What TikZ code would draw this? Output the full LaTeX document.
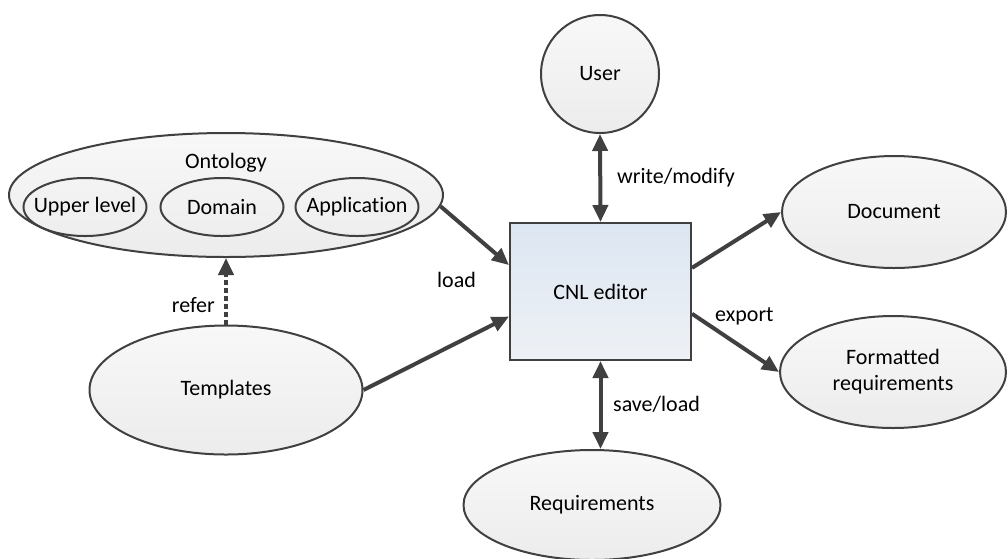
\documentclass[tikz,border=0pt]{standalone}
\usepackage{fontspec}
\setmainfont[Ligatures=NoCommon]{Carlito}
\usetikzlibrary{shapes.geometric,arrows.meta,calc}
\definecolor{ln}{HTML}{404040}
\definecolor{boxtop}{HTML}{DCE6F2}
\definecolor{boxbot}{HTML}{EEF1F5}
\definecolor{elltop}{HTML}{F8F8F8}
\definecolor{ellbot}{HTML}{ECECEC}
\begin{document}
\begin{tikzpicture}[x=1pt,y=-1pt,
  every node/.style={font=\fontsize{22}{26}\selectfont, text=black},
  ell/.style={ellipse, draw=ln, line width=2pt, top color=elltop, bottom color=ellbot, inner sep=0pt, align=center},
  sub/.style={ellipse, draw=ln, line width=2pt, inner sep=0pt, minimum width=123pt, minimum height=58pt},
  cnlbox/.style={rectangle, draw=ln, line width=2pt, top color=boxtop, bottom color=boxbot, minimum width=181pt, minimum height=137pt},
  tip/.tip={Triangle[length=17pt,width=15pt]},
  conn/.style={draw=ln, line width=4pt, -tip},
  dconn/.style={draw=ln, line width=4pt, tip-tip},
  lbl/.style={inner sep=0pt}
]
\useasboundingbox (0,0) rectangle (1008,558);

% nodes
\node[ell, minimum width=118pt, minimum height=118pt] (user) at (600,74) {User};
\node[cnlbox] (cnl) at (600.5,291.5) {CNL editor};
\node[ell, minimum width=434pt, minimum height=124pt] (ont) at (226,195) {};
\node[lbl] (ontl) at (226,163) {Ontology};
\node[sub, label={[lbl]center:Upper level}] (up) at (85,207) {};
\node[sub, label={[lbl]center:Domain}] (dom) at (222,207) {};
\node[sub, label={[lbl]center:Application}] (app) at (357,207) {};
\node[ell, minimum width=273pt, minimum height=129pt] (tmp) at (226,390) {Templates};
\node[ell, minimum width=224pt, minimum height=112pt] (doc) at (894,212) {Document};
\node[ell, minimum width=226pt, minimum height=112pt] (fr) at (893,372) {Formatted\\requirements};
\node[ell, minimum width=257pt, minimum height=110pt] (req) at (592,505) {Requirements};

% connectors
\draw[dconn] (user.south) -- (cnl.north);
\draw[dconn] (cnl.south) -- (cnl.south |- req.north);
\draw[conn] (ont.-3) -- ($(cnl.north west)!0.31!(cnl.south west)$);
\draw[conn] (tmp.east) -- ($(cnl.north west)!0.68!(cnl.south west)$);
\draw[conn] ($(cnl.north east)!0.33!(cnl.south east)$) -- (doc.west);
\draw[conn] ($(cnl.north east)!0.66!(cnl.south east)$) -- (fr.west);
\draw[draw=ln, line width=4pt, dash pattern=on 5pt off 3pt, -tip] (tmp.north) -- (ont.south);

% labels
\node[lbl, anchor=west] (lw) at (617,178) {write/modify};
\node[lbl, anchor=west] (ls) at (613,404) {save/load};
\node[lbl, anchor=west] (le) at (715,316) {export};
\node[lbl, anchor=west] (ll) at (437,280) {load};
\node[lbl, anchor=east] (lr) at (215,305) {refer};
\end{tikzpicture}
\end{document}
